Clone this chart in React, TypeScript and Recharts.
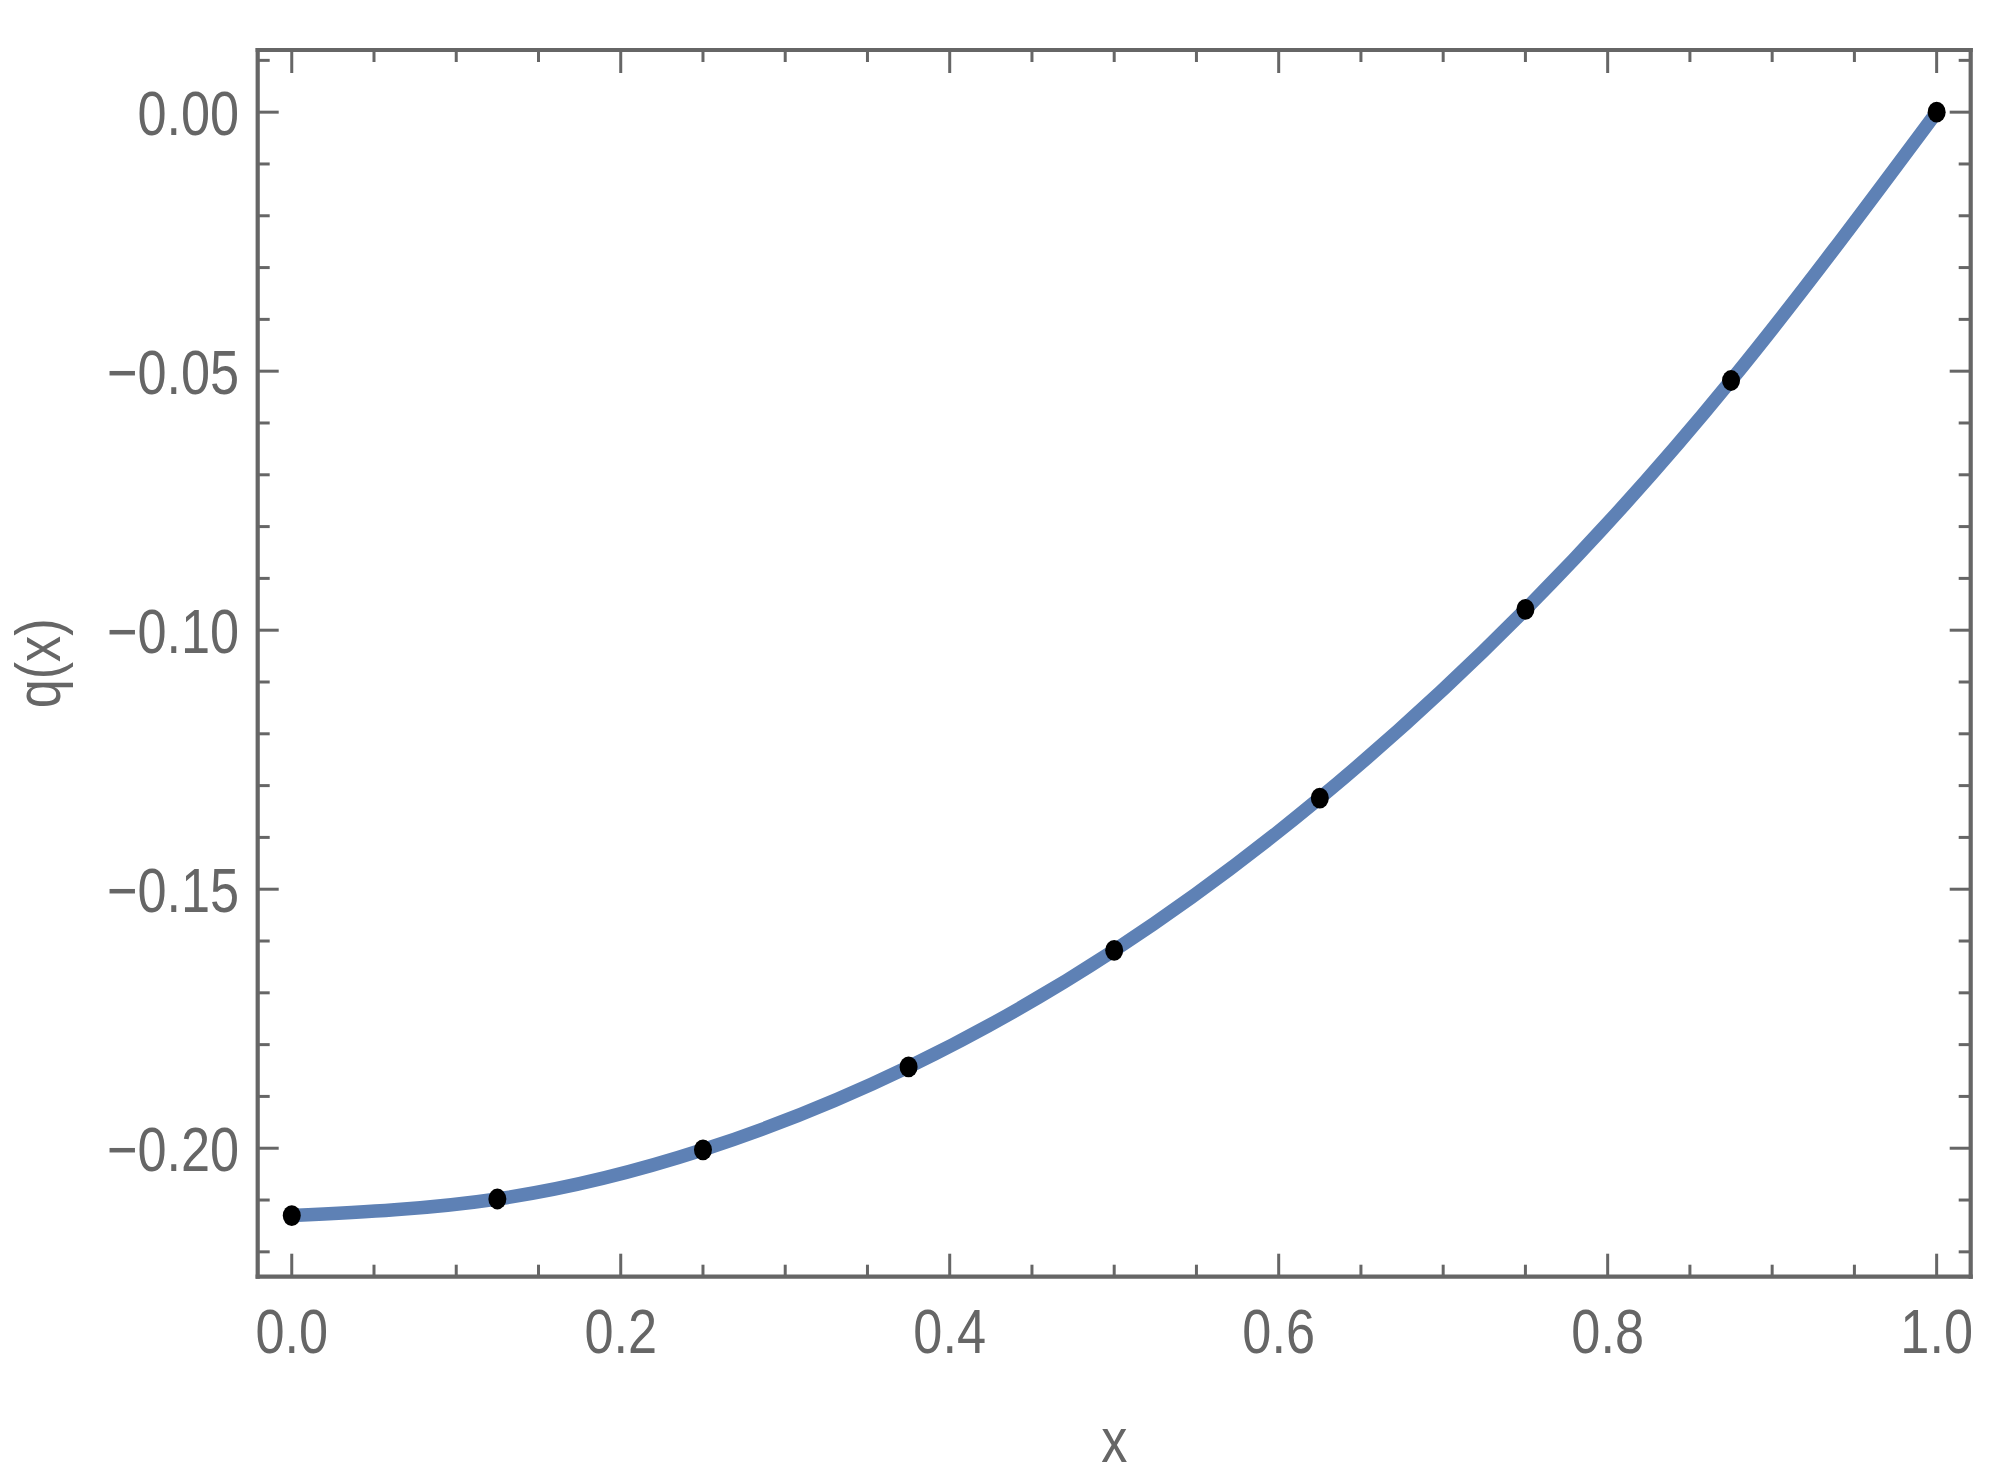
import React from "react";
import { LineChart, Line, XAxis, YAxis, Label } from "recharts";

// sample points of q(x)
const xValues = [0, 0.125, 0.25, 0.375, 0.5, 0.625, 0.75, 0.875, 1];
const qValues = [-0.213, -0.2098, -0.2003, -0.1843, -0.1618, -0.1324, -0.096, -0.0518, 0];

const xMajorTicks = [0, 0.2, 0.4, 0.6, 0.8, 1];
const xTickLabels = ["0.0", "0.2", "0.4", "0.6", "0.8", "1.0"];
const xMinorTicks = [0.05, 0.1, 0.15, 0.25, 0.3, 0.35, 0.45, 0.5, 0.55, 0.65, 0.7, 0.75, 0.85, 0.9, 0.95];

const yMajorTicks = [0, -0.05, -0.1, -0.15, -0.2];
const yTickLabels = ["0.00", "\u22120.05", "\u22120.10", "\u22120.15", "\u22120.20"];
const yMinorTicks = [0.01, -0.01, -0.02, -0.03, -0.04, -0.06, -0.07, -0.08, -0.09, -0.11, -0.12, -0.13, -0.14, -0.16, -0.17, -0.18, -0.19, -0.21, -0.22];

const xDomain = [-0.0207, 1.0207];
const yDomain = [-0.2248, 0.012];

const data = xValues.map((x, i) => ({ x, q: qValues[i] }));

const GRAY = "#666666";
const FONT = "'Liberation Sans', Arial, sans-serif";
const FS = 63;
const NARROW = 0.83; // the original font is a condensed sans

const allX = [...xMajorTicks, ...xMinorTicks].sort((a, b) => a - b);
const allY = [...yMajorTicks, ...yMinorTicks].sort((a, b) => a - b);

function xTick(side: "bottom" | "top") {
  return (props: any) => {
    const { x, y, payload } = props;
    const idx = xMajorTicks.indexOf(payload.value);
    const len = idx >= 0 ? 23 : 12;
    const dir = side === "bottom" ? -1 : 1;
    return (
      <g>
        <line x1={x} x2={x} y1={y} y2={y + dir * len} stroke={GRAY} strokeWidth={3} />
        {side === "bottom" && idx >= 0 && (
          <g transform={`translate(${x},${y + 76.5}) scale(${NARROW},1)`}>
            <text x={0} y={0} textAnchor="middle" fill={GRAY} fontSize={FS} fontFamily={FONT}>
              {xTickLabels[idx]}
            </text>
          </g>
        )}
      </g>
    );
  };
}

function yTick(side: "left" | "right") {
  return (props: any) => {
    const { x, y, payload } = props;
    const idx = yMajorTicks.indexOf(payload.value);
    const len = idx >= 0 ? 21 : 12;
    const dir = side === "left" ? 1 : -1;
    return (
      <g>
        <line x1={x} x2={x + dir * len} y1={y} y2={y} stroke={GRAY} strokeWidth={3} />
        {side === "left" && idx >= 0 && (
          <g transform={`translate(${x - 18.5},${y + 22.5}) scale(${NARROW},1)`}>
            <text x={0} y={0} textAnchor="end" fill={GRAY} fontSize={FS} fontFamily={FONT}>
              {yTickLabels[idx]}
            </text>
          </g>
        )}
      </g>
    );
  };
}

const Dot = (props: any) => {
  const { cx, cy, index } = props;
  if (cx == null || cy == null) return <g key={index} />;
  return <ellipse key={index} cx={cx} cy={cy} rx={9} ry={10.4} fill="#000" />;
};

const axisLine = { stroke: GRAY, strokeWidth: 4.2, strokeLinecap: "square" as const };

export default function App() {
  return (
    <div style={{ position: "absolute", left: 0, top: 0, width: 2007, height: 1477, background: "#fff" }}>
      <LineChart width={2007} height={1477} data={data} margin={{ top: 49, right: 35.3, bottom: 0.3, left: 0 }}>
        <XAxis
          xAxisId="b"
          dataKey="x"
          type="number"
          domain={xDomain}
          allowDataOverflow
          ticks={allX}
          interval={0}
          tickSize={0}
          tickMargin={0}
          tickLine={false}
          tick={xTick("bottom")}
          axisLine={axisLine}
          height={200}
        >
          <Label
            content={(p: any) => {
              const vb = p.viewBox;
              const cx = vb.x + vb.width / 2;
              return (
                <g transform={`translate(${cx},${vb.y + 185}) scale(${NARROW},1)`}>
                  <text x={0} y={0} textAnchor="middle" fill={GRAY} fontSize={FS} fontFamily={FONT}>
                    x
                  </text>
                </g>
              );
            }}
          />
        </XAxis>
        <XAxis
          xAxisId="t"
          dataKey="x"
          type="number"
          orientation="top"
          domain={xDomain}
          allowDataOverflow
          ticks={allX}
          interval={0}
          tickSize={0}
          tickMargin={0}
          tickLine={false}
          tick={xTick("top")}
          axisLine={axisLine}
          height={1}
        />
        <YAxis
          yAxisId="l"
          type="number"
          domain={yDomain}
          allowDataOverflow
          ticks={allY}
          interval={0}
          tickSize={0}
          tickMargin={0}
          tickLine={false}
          tick={yTick("left")}
          axisLine={axisLine}
          width={257.7}
        >
          <Label
            content={(p: any) => {
              const vb = p.viewBox;
              const cy = vb.y + vb.height / 2;
              return (
                <g transform={`translate(60,${cy}) rotate(-90) scale(${NARROW},1)`}>
                  <text x={0} y={0} textAnchor="middle" fill={GRAY} fontSize={FS} fontFamily={FONT}>
                    q(x)
                  </text>
                </g>
              );
            }}
          />
        </YAxis>
        <YAxis
          yAxisId="r"
          type="number"
          orientation="right"
          domain={yDomain}
          allowDataOverflow
          ticks={allY}
          interval={0}
          tickSize={0}
          tickMargin={0}
          tickLine={false}
          tick={yTick("right")}
          axisLine={axisLine}
          width={1}
        />
        {/* carries the top and right frame axes */}
        <Line
          xAxisId="t"
          yAxisId="r"
          dataKey="q"
          stroke="none"
          dot={false}
          activeDot={false}
          legendType="none"
          isAnimationActive={false}
        />
        <Line
          xAxisId="b"
          yAxisId="l"
          type="natural"
          dataKey="q"
          stroke="#5E81B5"
          strokeWidth={13.5}
          dot={<Dot />}
          activeDot={false}
          isAnimationActive={false}
        />
      </LineChart>
    </div>
  );
}
